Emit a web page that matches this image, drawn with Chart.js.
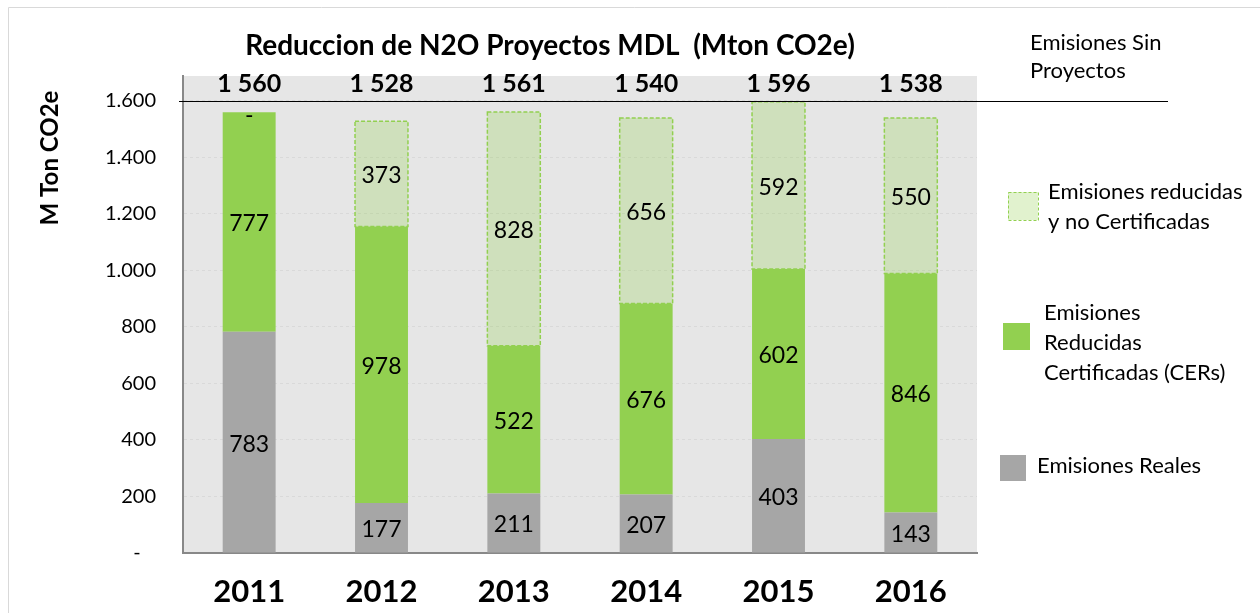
<!DOCTYPE html>
<html>
<head>
<meta charset="utf-8">
<script src="https://cdn.jsdelivr.net/npm/chart.js@4"></script>
<style>
  body { margin: 0; background: #fff; }
  canvas { display: block; }
</style>
</head>
<body>
<canvas id="n2oChart" width="1260" height="613"></canvas>
<script>
const years = ['2011', '2012', '2013', '2014', '2015', '2016'];
const reales = [783, 177, 211, 207, 403, 143];
const certificadas = [777, 978, 522, 676, 602, 846];
const noCertificadas = [0, 373, 828, 656, 592, 550];
const totals = [1560, 1528, 1561, 1540, 1596, 1538];
const sinProyectos = 1600;
const yTicks = [0, 200, 400, 600, 800, 1000, 1200, 1400, 1600];

const FONT = 'Lato, "Open Sans", sans-serif';
const GREEN = '#92d050';
const GREY = '#a6a6a6';
const LIGHT = 'rgba(146, 208, 80, 0.28)';

function fmtDot(v) {
    return String(v).replace(/\B(?=(\d{3})+(?!\d))/g, '.');
}
function fmtSpace(v) {
    return String(v).replace(/\B(?=(\d{3})+(?!\d))/g, ' ');
}

// grey plot background + frame
const backdrop = {
    id: 'backdrop',
    beforeDraw(chart) {
        const { ctx, chartArea: a } = chart;
        ctx.save();
        ctx.fillStyle = '#e6e6e6';
        ctx.fillRect(a.left, a.top, a.right - a.left, a.bottom - a.top);
        ctx.strokeStyle = '#d9d9d9';
        ctx.lineWidth = 1;
        ctx.beginPath();
        ctx.moveTo(8.5, 613);
        ctx.lineTo(8.5, 7.5);
        ctx.lineTo(1260, 7.5);
        ctx.stroke();
        ctx.restore();
    }
};

// dashed outline for the non certified part, labels, totals, legend, titles
const decorations = {
    id: 'decorations',
    afterDatasetsDraw(chart) {
        const { ctx } = chart;
        const y = chart.scales.y;

        // dashed border
        const metaLight = chart.getDatasetMeta(2);
        ctx.save();
        ctx.strokeStyle = GREEN;
        ctx.lineWidth = 1.5;
        ctx.setLineDash([4, 2]);
        metaLight.data.forEach((el, i) => {
            if (!noCertificadas[i]) return;
            const w = el.width;
            ctx.strokeRect(el.x - w / 2, el.y, w, el.base - el.y);
        });
        ctx.restore();

        // values inside bars
        ctx.save();
        ctx.fillStyle = '#000';
        ctx.font = '23px ' + FONT;
        ctx.textAlign = 'center';
        ctx.textBaseline = 'middle';
        chart.data.datasets.forEach((ds, di) => {
            chart.getDatasetMeta(di).data.forEach((el, i) => {
                const v = ds.data[i];
                const cy = (el.y + el.base) / 2;
                if (v === 0) {
                    ctx.fillText('-', el.x, cy + 3);
                } else {
                    ctx.fillText(String(v), el.x, cy + 2);
                }
            });
        });

        // totals above bars
        ctx.font = 'bold 25px ' + FONT;
        chart.getDatasetMeta(0).data.forEach((el, i) => {
            ctx.fillText(fmtSpace(totals[i]), el.x, 84);
        });

        // "sin proyectos" line
        const ly = Math.round(y.getPixelForValue(sinProyectos)) + 0.5;
        ctx.strokeStyle = '#000';
        ctx.lineWidth = 1.2;
        ctx.beginPath();
        ctx.moveTo(179, ly);
        ctx.lineTo(1168, ly);
        ctx.stroke();

        // title
        ctx.font = 'bold 28px ' + FONT;
        ctx.fillText('Reduccion de N2O Proyectos MDL  (Mton CO2e)', 550, 46);

        // y axis title
        ctx.save();
        ctx.translate(50, 158);
        ctx.rotate(-Math.PI / 2);
        ctx.font = 'bold 24px ' + FONT;
        ctx.fillText('M Ton CO2e', 0, 0);
        ctx.restore();

        // legend
        ctx.textAlign = 'left';
        ctx.font = '22px ' + FONT;
        ctx.fillText('Emisiones Sin', 1030, 43);
        ctx.fillText('Proyectos', 1030, 71);

        ctx.fillStyle = LIGHT;
        ctx.fillRect(1008, 192, 30, 28);
        ctx.strokeStyle = GREEN;
        ctx.lineWidth = 1;
        ctx.setLineDash([3, 2]);
        ctx.strokeRect(1008.5, 192.5, 30, 28);
        ctx.setLineDash([]);
        ctx.fillStyle = '#000';
        ctx.fillText('Emisiones reducidas', 1048, 192);
        ctx.fillText('y no Certificadas', 1048, 222);

        ctx.fillStyle = GREEN;
        ctx.fillRect(1003, 323, 27, 27);
        ctx.fillStyle = '#000';
        ctx.fillText('Emisiones', 1044, 313);
        ctx.fillText('Reducidas', 1044, 343);
        ctx.fillText('Certificadas (CERs)', 1044, 373);

        ctx.fillStyle = GREY;
        ctx.fillRect(1000, 455, 26, 26);
        ctx.fillStyle = '#000';
        ctx.fillText('Emisiones Reales', 1037, 466);
        ctx.restore();
    }
};

const ctx = document.getElementById('n2oChart').getContext('2d');

new Chart(ctx, {
    type: 'bar',
    data: {
        labels: years,
        datasets: [
            { label: 'Emisiones Reales', data: reales, backgroundColor: GREY },
            { label: 'Emisiones Reducidas Certificadas (CERs)', data: certificadas, backgroundColor: GREEN },
            { label: 'Emisiones reducidas y no Certificadas', data: noCertificadas, backgroundColor: LIGHT }
        ]
    },
    options: {
        responsive: false,
        animation: false,
        layout: { padding: { left: 0, right: 283, top: 76, bottom: 0 } },
        datasets: { bar: { categoryPercentage: 1, barPercentage: 0.4, borderWidth: 0 } },
        plugins: {
            legend: { display: false },
            tooltip: { enabled: false },
            title: { display: false }
        },
        scales: {
            x: {
                stacked: true,
                grid: { display: false, drawTicks: false },
                border: { color: '#888', width: 2 },
                ticks: { color: '#000', padding: 20, font: { family: FONT, size: 31, weight: 'bold' } },
                afterFit(scale) { scale.height = 60; }
            },
            y: {
                stacked: true,
                min: 0,
                max: 1688,
                afterBuildTicks(scale) {
                    scale.ticks = yTicks.map(v => ({ value: v }));
                },
                grid: { color: '#d9d9d9', drawTicks: false },
                border: { color: '#888', width: 2, dash: [3, 3] },
                ticks: {
                    color: '#000',
                    padding: 27,
                    font: { family: FONT, size: 20 },
                    callback: v => (v === 0 ? '-   ' : fmtDot(v))
                },
                afterFit(scale) { scale.width = 183; }
            }
        }
    },
    plugins: [backdrop, decorations]
});
</script>
</body>
</html>
